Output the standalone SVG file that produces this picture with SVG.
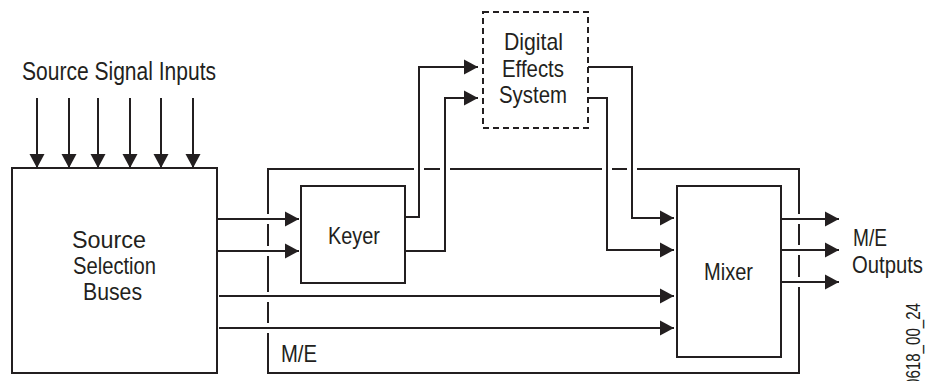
<svg xmlns="http://www.w3.org/2000/svg" width="933" height="381" viewBox="0 0 933 381">
<style>
.box{fill:none;stroke:#231f20;stroke-width:2}
.dash{fill:none;stroke:#231f20;stroke-width:2;stroke-dasharray:6 4}
.ln{fill:none;stroke:#231f20;stroke-width:2}
.arr{fill:none;stroke:#231f20;stroke-width:2;marker-end:url(#ah)}
.t{font-family:"Liberation Sans",Arial,sans-serif;font-size:24px;fill:#231f20}
</style>
<defs>
<marker id="ah" markerUnits="userSpaceOnUse" markerWidth="15" markerHeight="16" refX="14" refY="8" orient="auto">
<path d="M0,0.5 L14,8 L0,15.5 z" fill="#231f20"/>
</marker>
</defs>
<rect width="933" height="381" fill="#fff"/>
<text class="t" x="22" y="80" style="font-size:25px" textLength="194" lengthAdjust="spacingAndGlyphs">Source Signal Inputs</text>

<g id="me">
<path class="ln" d="M268,214 V169 H414 M424,169 H440 M450,169 H602 M612,169 H627 M637,169 H799 V214 M799,224 V245 M799,255 V277 M799,287 V373 H268 V333 M268,323 V302 M268,292 V256 M268,246 V224"/>
<text class="t" x="281" y="362" textLength="36" lengthAdjust="spacingAndGlyphs">M/E</text>
</g>

<g id="source">
<rect class="box" x="12" y="168" width="205" height="205"/>
<text class="t" x="72" y="248" textLength="74" lengthAdjust="spacingAndGlyphs">Source</text>
<text class="t" x="73" y="274" textLength="83" lengthAdjust="spacingAndGlyphs">Selection</text>
<text class="t" x="83" y="300" textLength="59" lengthAdjust="spacingAndGlyphs">Buses</text>
</g>

<g id="keyer">
<rect class="box" x="301" y="186" width="104" height="97"/>
<text class="t" x="328" y="244" textLength="52" lengthAdjust="spacingAndGlyphs">Keyer</text>
</g>

<g id="des">
<rect class="dash" x="483" y="12" width="105" height="116"/>
<text class="t" x="504" y="50" textLength="59" lengthAdjust="spacingAndGlyphs">Digital</text>
<text class="t" x="502" y="77" textLength="62" lengthAdjust="spacingAndGlyphs">Effects</text>
<text class="t" x="499" y="103" textLength="68" lengthAdjust="spacingAndGlyphs">System</text>
</g>

<g id="mixer">
<rect class="box" x="677" y="186" width="104" height="171"/>
<text class="t" x="704" y="280" textLength="49" lengthAdjust="spacingAndGlyphs">Mixer</text>
</g>

<g id="connectors">
<path class="arr" d="M37,98 V168"/>
<path class="arr" d="M69,98 V168"/>
<path class="arr" d="M98,98 V168"/>
<path class="arr" d="M130,98 V168"/>
<path class="arr" d="M161,98 V168"/>
<path class="arr" d="M193,98 V168"/>
<path class="arr" d="M217,219 H299"/>
<path class="arr" d="M217,251 H299"/>
<path class="arr" d="M405,217 H419 V67 H478"/>
<path class="arr" d="M405,251 H445 V98 H478"/>
<path class="arr" d="M588,67 H632 V218 H674"/>
<path class="arr" d="M588,98 H607 V250 H674"/>
<path class="arr" d="M219,296 H674"/>
<path class="arr" d="M219,328 H674"/>
<path class="arr" d="M781,219 H839"/>
<path class="arr" d="M781,250 H839"/>
<path class="arr" d="M781,282 H839"/>
</g>

<text class="t" x="853" y="246" textLength="34" lengthAdjust="spacingAndGlyphs">M/E</text>
<text class="t" x="852" y="273" textLength="71" lengthAdjust="spacingAndGlyphs">Outputs</text>
<text class="t" transform="translate(920,387) rotate(-90)" style="font-size:20px" textLength="84" lengthAdjust="spacingAndGlyphs">0618_00_24</text>
</svg>
